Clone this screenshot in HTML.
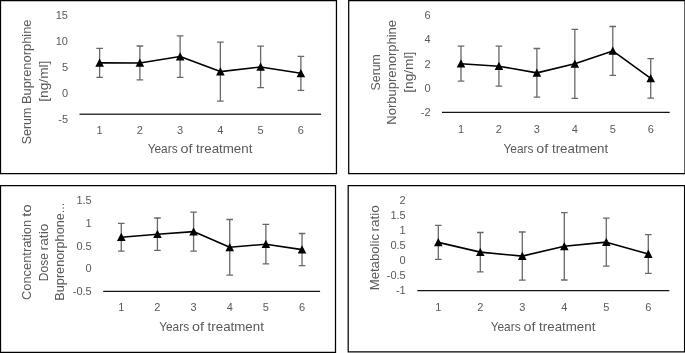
<!DOCTYPE html>
<html><head><meta charset="utf-8"><style>
html,body{margin:0;padding:0;background:#fff;}
body{width:685px;height:353px;overflow:hidden;}
svg{display:block;will-change:transform;}
.t{font-family:"Liberation Sans",sans-serif;font-size:11px;fill:#595959;}
.h{font-family:"Liberation Sans",sans-serif;font-size:12.7px;fill:#595959;}
</style></head><body>
<svg width="685" height="353" viewBox="0 0 685 353">
<rect width="685" height="353" fill="#fff"/>
<path d="M0.5 0.5H336.45V173.5H0.5Z" fill="none" stroke="#000" stroke-width="1.25"/>
<text class="t" x="68" y="19" text-anchor="end">15</text>
<text class="t" x="68" y="45.1" text-anchor="end">10</text>
<text class="t" x="68" y="71.2" text-anchor="end">5</text>
<text class="t" x="68" y="97.3" text-anchor="end">0</text>
<text class="t" x="68" y="123.4" text-anchor="end">-5</text>
<path d="M79.5 114.3H321" stroke="#3c3c3c" stroke-width="1.5"/>
<text class="t" x="99.62" y="134" text-anchor="middle">1</text>
<text class="t" x="139.88" y="134" text-anchor="middle">2</text>
<text class="t" x="180.12" y="134" text-anchor="middle">3</text>
<text class="t" x="220.38" y="134" text-anchor="middle">4</text>
<text class="t" x="260.62" y="134" text-anchor="middle">5</text>
<text class="t" x="300.88" y="134" text-anchor="middle">6</text>
<text class="h" x="147.67" y="152.8" textLength="29.94" lengthAdjust="spacingAndGlyphs">Years</text>
<text class="h" x="180.54" y="152.8" textLength="11.97" lengthAdjust="spacingAndGlyphs">of</text>
<text class="h" x="196.14" y="152.8" textLength="56.26" lengthAdjust="spacingAndGlyphs">treatment</text>
<text class="h" transform="translate(30.9 144.34) rotate(-90)" textLength="36.8" lengthAdjust="spacingAndGlyphs">Serum</text>
<text class="h" transform="translate(30.9 104.12) rotate(-90)" textLength="84.68" lengthAdjust="spacingAndGlyphs">Buprenorphine</text>
<text class="h" transform="translate(47.8 101.68) rotate(-90)" textLength="41.07" lengthAdjust="spacingAndGlyphs">[ng/ml]</text>
<path d="M99.62 48.4V77.3M96.33 48.4H102.92M96.33 77.3H102.92M139.88 46V79.9M136.57 46H143.18M136.57 79.9H143.18M180.12 35.8V77.3M176.82 35.8H183.43M176.82 77.3H183.43M220.38 42.1V101.1M217.07 42.1H223.68M217.07 101.1H223.68M260.62 46.2V87.7M257.32 46.2H263.93M257.32 87.7H263.93M300.88 56.3V90.3M297.57 56.3H304.18M297.57 90.3H304.18" stroke="#686868" stroke-width="1.3" fill="none"/>
<polyline points="99.62,62.85 139.88,62.95 180.12,56.55 220.38,71.6 260.62,66.95 300.88,73.3" fill="none" stroke="#000" stroke-width="1.6" stroke-linejoin="round"/>
<path d="M99.62 58.45L103.92 66.75L95.33 66.75ZM139.88 58.55L144.18 66.85L135.57 66.85ZM180.12 52.15L184.43 60.45L175.82 60.45ZM220.38 67.2L224.68 75.5L216.07 75.5ZM260.62 62.55L264.93 70.85L256.32 70.85ZM300.88 68.9L305.18 77.2L296.57 77.2Z" fill="#000"/>
<path d="M348.7 0.5H685V173.5H348.7Z" fill="none" stroke="#000" stroke-width="1.25"/>
<text class="t" x="430.5" y="18.9" text-anchor="end">6</text>
<text class="t" x="430.5" y="42.8" text-anchor="end">4</text>
<text class="t" x="430.5" y="67.8" text-anchor="end">2</text>
<text class="t" x="430.5" y="91.8" text-anchor="end">0</text>
<text class="t" x="430.5" y="115.9" text-anchor="end">-2</text>
<path d="M442 112.3H669.7" stroke="#141414" stroke-width="1.25"/>
<text class="t" x="460.98" y="132.7" text-anchor="middle">1</text>
<text class="t" x="498.93" y="132.7" text-anchor="middle">2</text>
<text class="t" x="536.88" y="132.7" text-anchor="middle">3</text>
<text class="t" x="574.83" y="132.7" text-anchor="middle">4</text>
<text class="t" x="612.78" y="132.7" text-anchor="middle">5</text>
<text class="t" x="650.73" y="132.7" text-anchor="middle">6</text>
<text class="h" x="503.47" y="152.8" textLength="29.94" lengthAdjust="spacingAndGlyphs">Years</text>
<text class="h" x="536.33" y="152.8" textLength="11.97" lengthAdjust="spacingAndGlyphs">of</text>
<text class="h" x="551.94" y="152.8" textLength="56.26" lengthAdjust="spacingAndGlyphs">treatment</text>
<text class="h" transform="translate(379.5 90.43) rotate(-90)" textLength="36.28" lengthAdjust="spacingAndGlyphs">Serum</text>
<text class="h" transform="translate(396.4 124.72) rotate(-90)" textLength="104.77" lengthAdjust="spacingAndGlyphs">Norbuprenorphine</text>
<text class="h" transform="translate(413 92.78) rotate(-90)" textLength="41.18" lengthAdjust="spacingAndGlyphs">[ng/ml]</text>
<path d="M460.98 46.2V81.1M457.68 46.2H464.28M457.68 81.1H464.28M498.93 46.2V86.2M495.62 46.2H502.23M495.62 86.2H502.23M536.88 48.5V97.2M533.58 48.5H540.17M533.58 97.2H540.17M574.83 29.3V98.3M571.53 29.3H578.12M571.53 98.3H578.12M612.78 26.5V75.4M609.48 26.5H616.08M609.48 75.4H616.08M650.73 58.6V98.1M647.43 58.6H654.02M647.43 98.1H654.02" stroke="#686868" stroke-width="1.3" fill="none"/>
<polyline points="460.98,63.7 498.93,66.2 536.88,72.9 574.83,63.8 612.78,50.95 650.73,78.3" fill="none" stroke="#000" stroke-width="1.6" stroke-linejoin="round"/>
<path d="M460.98 59.3L465.28 67.6L456.68 67.6ZM498.93 61.8L503.23 70.1L494.62 70.1ZM536.88 68.5L541.17 76.8L532.58 76.8ZM574.83 59.4L579.12 67.7L570.53 67.7ZM612.78 46.55L617.08 54.85L608.48 54.85ZM650.73 73.9L655.02 82.2L646.43 82.2Z" fill="#000"/>
<path d="M0.5 185.5H335.5V352.4H0.5Z" fill="none" stroke="#000" stroke-width="1.25"/>
<text class="t" x="91.7" y="204.1" text-anchor="end">1.5</text>
<text class="t" x="91.7" y="226.8" text-anchor="end">1</text>
<text class="t" x="91.7" y="249.8" text-anchor="end">0.5</text>
<text class="t" x="91.7" y="271.9" text-anchor="end">0</text>
<text class="t" x="91.7" y="295.4" text-anchor="end">-0.5</text>
<path d="M103.2 291.45H320.1" stroke="#141414" stroke-width="1.25"/>
<text class="t" x="121.28" y="311.1" text-anchor="middle">1</text>
<text class="t" x="157.43" y="311.1" text-anchor="middle">2</text>
<text class="t" x="193.58" y="311.1" text-anchor="middle">3</text>
<text class="t" x="229.73" y="311.1" text-anchor="middle">4</text>
<text class="t" x="265.88" y="311.1" text-anchor="middle">5</text>
<text class="t" x="302.03" y="311.1" text-anchor="middle">6</text>
<text class="h" x="159.17" y="331.3" textLength="29.94" lengthAdjust="spacingAndGlyphs">Years</text>
<text class="h" x="192.04" y="331.3" textLength="11.97" lengthAdjust="spacingAndGlyphs">of</text>
<text class="h" x="207.64" y="331.3" textLength="56.26" lengthAdjust="spacingAndGlyphs">treatment</text>
<text class="h" transform="translate(31 299.96) rotate(-90)" textLength="80.02" lengthAdjust="spacingAndGlyphs">Concentration</text>
<text class="h" transform="translate(31 216.69) rotate(-90)" textLength="12.28" lengthAdjust="spacingAndGlyphs">to</text>
<text class="h" transform="translate(47.7 281.14) rotate(-90)" textLength="27.93" lengthAdjust="spacingAndGlyphs">Dose</text>
<text class="h" transform="translate(47.7 250.42) rotate(-90)" textLength="26.89" lengthAdjust="spacingAndGlyphs">ratio</text>
<text class="h" transform="translate(64.4 300.7) rotate(-90)" textLength="98.11" lengthAdjust="spacingAndGlyphs">Buprenorphone...</text>
<path d="M121.28 223.3V251.1M117.98 223.3H124.58M117.98 251.1H124.58M157.43 218V250.3M154.12 218H160.73M154.12 250.3H160.73M193.58 212.1V251.1M190.28 212.1H196.88M190.28 251.1H196.88M229.73 219.5V275.1M226.43 219.5H233.03M226.43 275.1H233.03M265.88 224.4V263.9M262.57 224.4H269.18M262.57 263.9H269.18M302.03 233.5V265.6M298.73 233.5H305.33M298.73 265.6H305.33" stroke="#686868" stroke-width="1.3" fill="none"/>
<polyline points="121.28,237.2 157.43,234.2 193.58,231.6 229.73,247.3 265.88,244.2 302.03,249.6" fill="none" stroke="#000" stroke-width="1.6" stroke-linejoin="round"/>
<path d="M121.28 232.8L125.58 241.1L116.98 241.1ZM157.43 229.8L161.73 238.1L153.12 238.1ZM193.58 227.2L197.88 235.5L189.28 235.5ZM229.73 242.9L234.03 251.2L225.43 251.2ZM265.88 239.8L270.18 248.1L261.57 248.1ZM302.03 245.2L306.33 253.5L297.73 253.5Z" fill="#000"/>
<path d="M348.2 185.5H684.6V351.8H348.2Z" fill="none" stroke="#000" stroke-width="1.25"/>
<text class="t" x="405.7" y="203.9" text-anchor="end">2</text>
<text class="t" x="405.7" y="218.97" text-anchor="end">1.5</text>
<text class="t" x="405.7" y="234.04" text-anchor="end">1</text>
<text class="t" x="405.7" y="249.11" text-anchor="end">0.5</text>
<text class="t" x="405.7" y="264.18" text-anchor="end">0</text>
<text class="t" x="405.7" y="279.25" text-anchor="end">-0.5</text>
<text class="t" x="405.7" y="294.32" text-anchor="end">-1</text>
<path d="M417.3 290.7H669.3" stroke="#141414" stroke-width="1.25"/>
<text class="t" x="438.3" y="311.1" text-anchor="middle">1</text>
<text class="t" x="480.3" y="311.1" text-anchor="middle">2</text>
<text class="t" x="522.3" y="311.1" text-anchor="middle">3</text>
<text class="t" x="564.3" y="311.1" text-anchor="middle">4</text>
<text class="t" x="606.3" y="311.1" text-anchor="middle">5</text>
<text class="t" x="648.3" y="311.1" text-anchor="middle">6</text>
<text class="h" x="490.67" y="330.8" textLength="29.94" lengthAdjust="spacingAndGlyphs">Years</text>
<text class="h" x="523.54" y="330.8" textLength="11.97" lengthAdjust="spacingAndGlyphs">of</text>
<text class="h" x="539.14" y="330.8" textLength="56.26" lengthAdjust="spacingAndGlyphs">treatment</text>
<text class="h" transform="translate(378.5 290.34) rotate(-90)" textLength="56.36" lengthAdjust="spacingAndGlyphs">Metabolic</text>
<text class="h" transform="translate(378.5 231.5) rotate(-90)" textLength="26.26" lengthAdjust="spacingAndGlyphs">ratio</text>
<path d="M438.3 225.4V259.3M435 225.4H441.6M435 259.3H441.6M480.3 232.5V271.8M477 232.5H483.6M477 271.8H483.6M522.3 232V280.2M519 232H525.6M519 280.2H525.6M564.3 212.6V280M561 212.6H567.6M561 280H567.6M606.3 218.2V266.1M603 218.2H609.6M603 266.1H609.6M648.3 234.6V273.4M645 234.6H651.6M645 273.4H651.6" stroke="#686868" stroke-width="1.3" fill="none"/>
<polyline points="438.3,242.35 480.3,252.15 522.3,256.1 564.3,246.3 606.3,242.15 648.3,254" fill="none" stroke="#000" stroke-width="1.6" stroke-linejoin="round"/>
<path d="M438.3 237.95L442.6 246.25L434 246.25ZM480.3 247.75L484.6 256.05L476 256.05ZM522.3 251.7L526.6 260L518 260ZM564.3 241.9L568.6 250.2L560 250.2ZM606.3 237.75L610.6 246.05L602 246.05ZM648.3 249.6L652.6 257.9L644 257.9Z" fill="#000"/>
</svg>
</body></html>
